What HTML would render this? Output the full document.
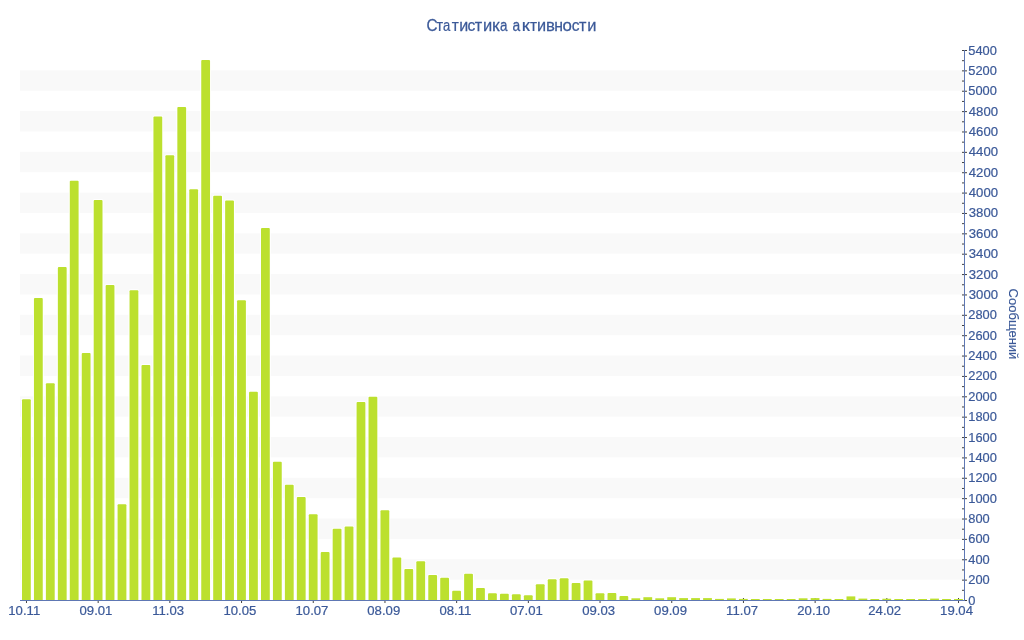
<!DOCTYPE html>
<html><head><meta charset="utf-8"><title>Статистика активности</title>
<style>
html,body{margin:0;padding:0;background:#fff;}
body{width:1024px;height:640px;overflow:hidden;}
svg{display:block;}
text{font-family:"Liberation Sans",sans-serif;fill:#3b5998;}
</style></head><body>
<svg width="1024" height="640" viewBox="0 0 1024 640">
<rect width="1024" height="640" fill="#fff"/>
<g fill="#f9f9f9">
<rect x="20" y="559.26" width="944" height="20.37"/>
<rect x="20" y="518.52" width="944" height="20.37"/>
<rect x="20" y="477.78" width="944" height="20.37"/>
<rect x="20" y="437.04" width="944" height="20.37"/>
<rect x="20" y="396.30" width="944" height="20.37"/>
<rect x="20" y="355.56" width="944" height="20.37"/>
<rect x="20" y="314.81" width="944" height="20.37"/>
<rect x="20" y="274.07" width="944" height="20.37"/>
<rect x="20" y="233.33" width="944" height="20.37"/>
<rect x="20" y="192.59" width="944" height="20.37"/>
<rect x="20" y="151.85" width="944" height="20.37"/>
<rect x="20" y="111.11" width="944" height="20.37"/>
<rect x="20" y="70.37" width="944" height="20.37"/>
</g>
<g stroke="#000" stroke-opacity="0.75" stroke-width="1">
<line x1="962" x2="967" y1="600.50" y2="600.50"/>
<line x1="962" x2="964" y1="590.31" y2="590.31"/>
<line x1="962" x2="967" y1="580.13" y2="580.13"/>
<line x1="962" x2="964" y1="569.94" y2="569.94"/>
<line x1="962" x2="967" y1="559.76" y2="559.76"/>
<line x1="962" x2="964" y1="549.57" y2="549.57"/>
<line x1="962" x2="967" y1="539.39" y2="539.39"/>
<line x1="962" x2="964" y1="529.20" y2="529.20"/>
<line x1="962" x2="967" y1="519.02" y2="519.02"/>
<line x1="962" x2="964" y1="508.83" y2="508.83"/>
<line x1="962" x2="967" y1="498.65" y2="498.65"/>
<line x1="962" x2="964" y1="488.46" y2="488.46"/>
<line x1="962" x2="967" y1="478.28" y2="478.28"/>
<line x1="962" x2="964" y1="468.09" y2="468.09"/>
<line x1="962" x2="967" y1="457.91" y2="457.91"/>
<line x1="962" x2="964" y1="447.72" y2="447.72"/>
<line x1="962" x2="967" y1="437.54" y2="437.54"/>
<line x1="962" x2="964" y1="427.35" y2="427.35"/>
<line x1="962" x2="967" y1="417.17" y2="417.17"/>
<line x1="962" x2="964" y1="406.98" y2="406.98"/>
<line x1="962" x2="967" y1="396.80" y2="396.80"/>
<line x1="962" x2="964" y1="386.61" y2="386.61"/>
<line x1="962" x2="967" y1="376.43" y2="376.43"/>
<line x1="962" x2="964" y1="366.24" y2="366.24"/>
<line x1="962" x2="967" y1="356.06" y2="356.06"/>
<line x1="962" x2="964" y1="345.87" y2="345.87"/>
<line x1="962" x2="967" y1="335.69" y2="335.69"/>
<line x1="962" x2="964" y1="325.50" y2="325.50"/>
<line x1="962" x2="967" y1="315.31" y2="315.31"/>
<line x1="962" x2="964" y1="305.13" y2="305.13"/>
<line x1="962" x2="967" y1="294.94" y2="294.94"/>
<line x1="962" x2="964" y1="284.76" y2="284.76"/>
<line x1="962" x2="967" y1="274.57" y2="274.57"/>
<line x1="962" x2="964" y1="264.39" y2="264.39"/>
<line x1="962" x2="967" y1="254.20" y2="254.20"/>
<line x1="962" x2="964" y1="244.02" y2="244.02"/>
<line x1="962" x2="967" y1="233.83" y2="233.83"/>
<line x1="962" x2="964" y1="223.65" y2="223.65"/>
<line x1="962" x2="967" y1="213.46" y2="213.46"/>
<line x1="962" x2="964" y1="203.28" y2="203.28"/>
<line x1="962" x2="967" y1="193.09" y2="193.09"/>
<line x1="962" x2="964" y1="182.91" y2="182.91"/>
<line x1="962" x2="967" y1="172.72" y2="172.72"/>
<line x1="962" x2="964" y1="162.54" y2="162.54"/>
<line x1="962" x2="967" y1="152.35" y2="152.35"/>
<line x1="962" x2="964" y1="142.17" y2="142.17"/>
<line x1="962" x2="967" y1="131.98" y2="131.98"/>
<line x1="962" x2="964" y1="121.80" y2="121.80"/>
<line x1="962" x2="967" y1="111.61" y2="111.61"/>
<line x1="962" x2="964" y1="101.43" y2="101.43"/>
<line x1="962" x2="967" y1="91.24" y2="91.24"/>
<line x1="962" x2="964" y1="81.06" y2="81.06"/>
<line x1="962" x2="967" y1="70.87" y2="70.87"/>
<line x1="962" x2="964" y1="60.69" y2="60.69"/>
<line x1="962" x2="967" y1="50.50" y2="50.50"/>
<line x1="26.47" x2="26.47" y1="598" y2="603"/>
<line x1="98.17" x2="98.17" y1="598" y2="603"/>
<line x1="169.87" x2="169.87" y1="598" y2="603"/>
<line x1="241.56" x2="241.56" y1="598" y2="603"/>
<line x1="313.26" x2="313.26" y1="598" y2="603"/>
<line x1="384.96" x2="384.96" y1="598" y2="603"/>
<line x1="456.65" x2="456.65" y1="598" y2="603"/>
<line x1="528.35" x2="528.35" y1="598" y2="603"/>
<line x1="600.04" x2="600.04" y1="598" y2="603"/>
<line x1="671.74" x2="671.74" y1="598" y2="603"/>
<line x1="743.44" x2="743.44" y1="598" y2="603"/>
<line x1="815.13" x2="815.13" y1="598" y2="603"/>
<line x1="886.83" x2="886.83" y1="598" y2="603"/>
<line x1="958.53" x2="958.53" y1="598" y2="603"/>
</g>
<g fill="#bce02e" stroke="#fff" stroke-width="2" paint-order="stroke">
<path d="M22.00 600V400.25q0 -1.0 1.0 -1.0h6.80q1.0 0 1.0 1.0V600z"/>
<path d="M33.95 600V299.00q0 -1.0 1.0 -1.0h6.80q1.0 0 1.0 1.0V600z"/>
<path d="M45.90 600V384.25q0 -1.0 1.0 -1.0h6.80q1.0 0 1.0 1.0V600z"/>
<path d="M57.85 600V268.00q0 -1.0 1.0 -1.0h6.80q1.0 0 1.0 1.0V600z"/>
<path d="M69.80 600V181.75q0 -1.0 1.0 -1.0h6.80q1.0 0 1.0 1.0V600z"/>
<path d="M81.75 600V354.00q0 -1.0 1.0 -1.0h6.80q1.0 0 1.0 1.0V600z"/>
<path d="M93.70 600V201.00q0 -1.0 1.0 -1.0h6.80q1.0 0 1.0 1.0V600z"/>
<path d="M105.65 600V286.00q0 -1.0 1.0 -1.0h6.80q1.0 0 1.0 1.0V600z"/>
<path d="M117.59 600V505.25q0 -1.0 1.0 -1.0h6.80q1.0 0 1.0 1.0V600z"/>
<path d="M129.54 600V291.25q0 -1.0 1.0 -1.0h6.80q1.0 0 1.0 1.0V600z"/>
<path d="M141.49 600V366.00q0 -1.0 1.0 -1.0h6.80q1.0 0 1.0 1.0V600z"/>
<path d="M153.44 600V117.50q0 -1.0 1.0 -1.0h6.80q1.0 0 1.0 1.0V600z"/>
<path d="M165.39 600V156.25q0 -1.0 1.0 -1.0h6.80q1.0 0 1.0 1.0V600z"/>
<path d="M177.34 600V108.00q0 -1.0 1.0 -1.0h6.80q1.0 0 1.0 1.0V600z"/>
<path d="M189.29 600V190.25q0 -1.0 1.0 -1.0h6.80q1.0 0 1.0 1.0V600z"/>
<path d="M201.24 600V61.00q0 -1.0 1.0 -1.0h6.80q1.0 0 1.0 1.0V600z"/>
<path d="M213.19 600V196.75q0 -1.0 1.0 -1.0h6.80q1.0 0 1.0 1.0V600z"/>
<path d="M225.14 600V201.50q0 -1.0 1.0 -1.0h6.80q1.0 0 1.0 1.0V600z"/>
<path d="M237.09 600V301.25q0 -1.0 1.0 -1.0h6.80q1.0 0 1.0 1.0V600z"/>
<path d="M249.04 600V392.75q0 -1.0 1.0 -1.0h6.80q1.0 0 1.0 1.0V600z"/>
<path d="M260.99 600V229.00q0 -1.0 1.0 -1.0h6.80q1.0 0 1.0 1.0V600z"/>
<path d="M272.94 600V462.75q0 -1.0 1.0 -1.0h6.80q1.0 0 1.0 1.0V600z"/>
<path d="M284.89 600V485.75q0 -1.0 1.0 -1.0h6.80q1.0 0 1.0 1.0V600z"/>
<path d="M296.84 600V498.00q0 -1.0 1.0 -1.0h6.80q1.0 0 1.0 1.0V600z"/>
<path d="M308.78 600V515.25q0 -1.0 1.0 -1.0h6.80q1.0 0 1.0 1.0V600z"/>
<path d="M320.73 600V553.00q0 -1.0 1.0 -1.0h6.80q1.0 0 1.0 1.0V600z"/>
<path d="M332.68 600V529.75q0 -1.0 1.0 -1.0h6.80q1.0 0 1.0 1.0V600z"/>
<path d="M344.63 600V527.50q0 -1.0 1.0 -1.0h6.80q1.0 0 1.0 1.0V600z"/>
<path d="M356.58 600V403.00q0 -1.0 1.0 -1.0h6.80q1.0 0 1.0 1.0V600z"/>
<path d="M368.53 600V397.75q0 -1.0 1.0 -1.0h6.80q1.0 0 1.0 1.0V600z"/>
<path d="M380.48 600V511.25q0 -1.0 1.0 -1.0h6.80q1.0 0 1.0 1.0V600z"/>
<path d="M392.43 600V558.50q0 -1.0 1.0 -1.0h6.80q1.0 0 1.0 1.0V600z"/>
<path d="M404.38 600V570.00q0 -1.0 1.0 -1.0h6.80q1.0 0 1.0 1.0V600z"/>
<path d="M416.33 600V562.25q0 -1.0 1.0 -1.0h6.80q1.0 0 1.0 1.0V600z"/>
<path d="M428.28 600V576.00q0 -1.0 1.0 -1.0h6.80q1.0 0 1.0 1.0V600z"/>
<path d="M440.23 600V578.75q0 -1.0 1.0 -1.0h6.80q1.0 0 1.0 1.0V600z"/>
<path d="M452.18 600V591.75q0 -1.0 1.0 -1.0h6.80q1.0 0 1.0 1.0V600z"/>
<path d="M464.13 600V574.75q0 -1.0 1.0 -1.0h6.80q1.0 0 1.0 1.0V600z"/>
<path d="M476.08 600V589.00q0 -1.0 1.0 -1.0h6.80q1.0 0 1.0 1.0V600z"/>
<path d="M488.03 600V594.25q0 -1.0 1.0 -1.0h6.80q1.0 0 1.0 1.0V600z"/>
<path d="M499.97 600V594.75q0 -1.0 1.0 -1.0h6.80q1.0 0 1.0 1.0V600z"/>
<path d="M511.92 600V595.25q0 -1.0 1.0 -1.0h6.80q1.0 0 1.0 1.0V600z"/>
<path d="M523.87 600V596.25q0 -1.0 1.0 -1.0h6.80q1.0 0 1.0 1.0V600z"/>
<path d="M535.82 600V585.25q0 -1.0 1.0 -1.0h6.80q1.0 0 1.0 1.0V600z"/>
<path d="M547.77 600V580.25q0 -1.0 1.0 -1.0h6.80q1.0 0 1.0 1.0V600z"/>
<path d="M559.72 600V579.25q0 -1.0 1.0 -1.0h6.80q1.0 0 1.0 1.0V600z"/>
<path d="M571.67 600V584.00q0 -1.0 1.0 -1.0h6.80q1.0 0 1.0 1.0V600z"/>
<path d="M583.62 600V581.50q0 -1.0 1.0 -1.0h6.80q1.0 0 1.0 1.0V600z"/>
<path d="M595.57 600V594.25q0 -1.0 1.0 -1.0h6.80q1.0 0 1.0 1.0V600z"/>
<path d="M607.52 600V594.10q0 -1.0 1.0 -1.0h6.80q1.0 0 1.0 1.0V600z"/>
<path d="M619.47 600V596.90q0 -1.0 1.0 -1.0h6.80q1.0 0 1.0 1.0V600z"/>
</g>
<g fill="#bce02e">
<rect x="631.42" y="598.30" width="8.80" height="1.70"/>
<rect x="643.37" y="597.20" width="8.80" height="2.80"/>
<rect x="655.32" y="598.30" width="8.80" height="1.70"/>
<rect x="667.27" y="597.20" width="8.80" height="2.80"/>
<rect x="679.22" y="598.10" width="8.80" height="1.90"/>
<rect x="691.16" y="598.10" width="8.80" height="1.90"/>
<rect x="703.11" y="598.10" width="8.80" height="1.90"/>
<rect x="715.06" y="598.90" width="8.80" height="1.10"/>
<rect x="727.01" y="598.40" width="8.80" height="1.60"/>
<rect x="738.96" y="598.90" width="8.80" height="1.10"/>
<rect x="750.91" y="599.00" width="8.80" height="1.00"/>
<rect x="762.86" y="599.00" width="8.80" height="1.00"/>
<rect x="774.81" y="599.00" width="8.80" height="1.00"/>
<rect x="786.76" y="599.00" width="8.80" height="1.00"/>
<rect x="798.71" y="598.30" width="8.80" height="1.70"/>
<rect x="810.66" y="598.10" width="8.80" height="1.90"/>
<rect x="822.61" y="598.90" width="8.80" height="1.10"/>
<rect x="834.56" y="599.00" width="8.80" height="1.00"/>
<rect x="846.51" y="596.40" width="8.80" height="3.60"/>
<rect x="858.46" y="598.60" width="8.80" height="1.40"/>
<rect x="870.41" y="599.00" width="8.80" height="1.00"/>
<rect x="882.35" y="598.75" width="8.80" height="1.25"/>
<rect x="894.30" y="599.00" width="8.80" height="1.00"/>
<rect x="906.25" y="599.00" width="8.80" height="1.00"/>
<rect x="918.20" y="599.00" width="8.80" height="1.00"/>
<rect x="930.15" y="598.60" width="8.80" height="1.40"/>
<rect x="942.10" y="599.00" width="8.80" height="1.00"/>
<rect x="954.05" y="599.00" width="8.80" height="1.00"/>
</g>
<g fill="#5e77b3">
<rect x="20" y="600" width="945" height="1"/>
<rect x="964" y="50" width="1" height="551"/>
</g>
<g opacity="0.999">
<g font-size="12.6" stroke="#3b5998" stroke-width="0.2">
<text transform="translate(968.3 605) scale(1.020 1)">0</text>
<text transform="translate(968.3 584) scale(1.020 1)">200</text>
<text transform="translate(968.3 564) scale(1.020 1)">400</text>
<text transform="translate(968.3 543) scale(1.020 1)">600</text>
<text transform="translate(968.3 523) scale(1.020 1)">800</text>
<text transform="translate(968.3 503) scale(1.020 1)">1000</text>
<text transform="translate(968.3 482) scale(1.020 1)">1200</text>
<text transform="translate(968.3 462) scale(1.020 1)">1400</text>
<text transform="translate(968.3 442) scale(1.020 1)">1600</text>
<text transform="translate(968.3 421) scale(1.020 1)">1800</text>
<text transform="translate(968.3 401) scale(1.020 1)">2000</text>
<text transform="translate(968.3 380) scale(1.020 1)">2200</text>
<text transform="translate(968.3 360) scale(1.020 1)">2400</text>
<text transform="translate(968.3 340) scale(1.020 1)">2600</text>
<text transform="translate(968.3 319) scale(1.020 1)">2800</text>
<text transform="translate(968.8 299) scale(1.045 1)">3000</text>
<text transform="translate(968.8 279) scale(1.045 1)">3200</text>
<text transform="translate(968.8 258) scale(1.045 1)">3400</text>
<text transform="translate(968.8 238) scale(1.045 1)">3600</text>
<text transform="translate(968.8 217) scale(1.045 1)">3800</text>
<text transform="translate(968.8 197) scale(1.045 1)">4000</text>
<text transform="translate(968.8 177) scale(1.045 1)">4200</text>
<text transform="translate(968.8 156) scale(1.045 1)">4400</text>
<text transform="translate(968.8 136) scale(1.045 1)">4600</text>
<text transform="translate(968.8 116) scale(1.045 1)">4800</text>
<text transform="translate(968.3 95) scale(1.020 1)">5000</text>
<text transform="translate(968.3 75) scale(1.020 1)">5200</text>
<text transform="translate(968.3 55) scale(1.020 1)">5400</text>
</g>
<g font-size="12.6" text-anchor="middle" stroke="#3b5998" stroke-width="0.2">
<text transform="translate(24.27 615) scale(1.045 1)">10.11</text>
<text transform="translate(95.97 615) scale(1.045 1)">09.01</text>
<text transform="translate(168.17 615) scale(1.045 1)">11.03</text>
<text transform="translate(239.86 615) scale(1.045 1)">10.05</text>
<text transform="translate(311.96 615) scale(1.045 1)">10.07</text>
<text transform="translate(383.76 615) scale(1.045 1)">08.09</text>
<text transform="translate(455.45 615) scale(1.045 1)">08.11</text>
<text transform="translate(526.45 615) scale(1.045 1)">07.01</text>
<text transform="translate(598.64 615) scale(1.045 1)">09.03</text>
<text transform="translate(670.54 615) scale(1.045 1)">09.09</text>
<text transform="translate(742.04 615) scale(1.045 1)">11.07</text>
<text transform="translate(813.73 615) scale(1.045 1)">20.10</text>
<text transform="translate(884.73 615) scale(1.045 1)">24.02</text>
<text transform="translate(956.53 615) scale(1.045 1)">19.04</text>
</g>
<text transform="translate(426.38 31) scale(0.928 1)" font-size="16.5" stroke="#3b5998" stroke-width="0.25">С</text>
<text transform="translate(436.20 31) scale(0.867 1)" font-size="17.3" stroke="#3b5998" stroke-width="0.25">т</text>
<text transform="translate(442.93 31) scale(0.756 1)" font-size="17.3" stroke="#3b5998" stroke-width="0.25">а</text>
<text transform="translate(451.80 31) scale(0.893 1)" font-size="17.3" stroke="#3b5998" stroke-width="0.25">т</text>
<text transform="translate(459.19 31) scale(0.928 1)" font-size="17.3" stroke="#3b5998" stroke-width="0.25">и</text>
<text transform="translate(467.53 31) scale(0.893 1)" font-size="17.3" stroke="#3b5998" stroke-width="0.25">с</text>
<text transform="translate(474.79 31) scale(0.933 1)" font-size="17.3" stroke="#3b5998" stroke-width="0.25">т</text>
<text transform="translate(482.96 31) scale(0.954 1)" font-size="17.3" stroke="#3b5998" stroke-width="0.25">и</text>
<text transform="translate(492.00 31) scale(1.008 1)" font-size="17.3" stroke="#3b5998" stroke-width="0.25">к</text>
<text transform="translate(500.01 31) scale(0.778 1)" font-size="17.3" stroke="#3b5998" stroke-width="0.25">а</text>
<text transform="translate(512.60 31) scale(0.800 1)" font-size="17.3" stroke="#3b5998" stroke-width="0.25">а</text>
<text transform="translate(521.74 31) scale(1.067 1)" font-size="17.3" stroke="#3b5998" stroke-width="0.25">к</text>
<text transform="translate(530.00 31) scale(0.893 1)" font-size="17.3" stroke="#3b5998" stroke-width="0.25">т</text>
<text transform="translate(537.07 31) scale(0.941 1)" font-size="17.3" stroke="#3b5998" stroke-width="0.25">и</text>
<text transform="translate(545.95 31) scale(0.968 1)" font-size="17.3" stroke="#3b5998" stroke-width="0.25">в</text>
<text transform="translate(554.30 31) scale(0.914 1)" font-size="17.3" stroke="#3b5998" stroke-width="0.25">н</text>
<text transform="translate(562.57 31) scale(0.975 1)" font-size="17.3" stroke="#3b5998" stroke-width="0.25">о</text>
<text transform="translate(571.63 31) scale(0.893 1)" font-size="17.3" stroke="#3b5998" stroke-width="0.25">с</text>
<text transform="translate(579.09 31) scale(0.933 1)" font-size="17.3" stroke="#3b5998" stroke-width="0.25">т</text>
<text transform="translate(587.16 31) scale(0.954 1)" font-size="17.3" stroke="#3b5998" stroke-width="0.25">и</text>
<text transform="translate(1009 324) rotate(90)" font-size="13" text-anchor="middle" stroke="#3b5998" stroke-width="0.15">Сообщений</text>
</g>
</svg>
</body></html>
